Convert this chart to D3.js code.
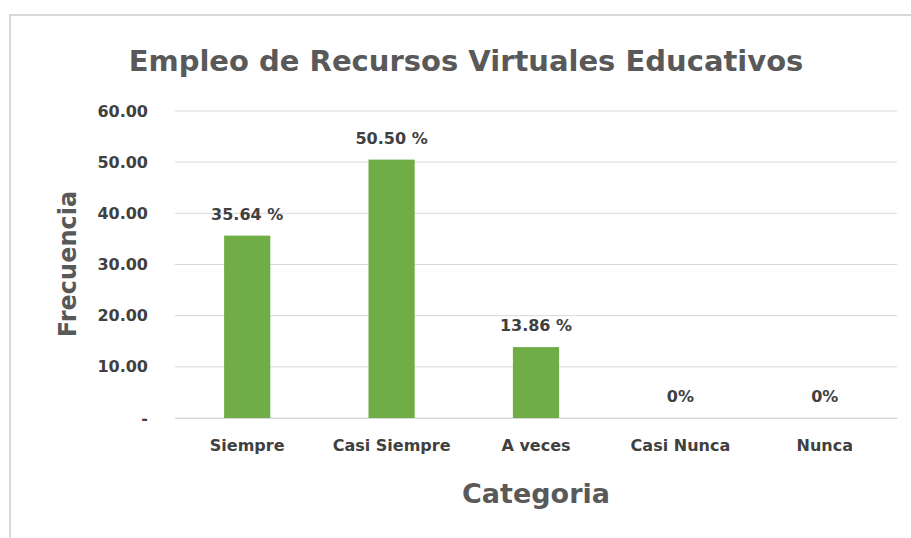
<!DOCTYPE html>
<html><head><meta charset="utf-8">
<script src="https://cdn.jsdelivr.net/npm/d3@7"></script>
<style>body{margin:0;background:#fff}svg{display:block}</style>
</head><body>
<svg id="c" width="911" height="538"></svg>
<script>
const categories = ["Siempre", "Casi Siempre", "A veces", "Casi Nunca", "Nunca"];
const values = [35.64, 50.50, 13.86, 0, 0];
const valueLabels = ["35.64 %", "50.50 %", "13.86 %", "0%", "0%"];
const yTicks = [0, 10, 20, 30, 40, 50, 60];
const title = "Empleo de Recursos Virtuales Educativos";
const xTitle = "Categoria";
const yTitle = "Frecuencia";

const svg = d3.select("#c");
const m = {left:175, right:897, top:111, bottom:418};
svg.append("rect").attr("x",10).attr("y",15).attr("width",920).attr("height",540)
  .attr("fill","#fff").attr("stroke","#d9d9d9").attr("stroke-width",2);

const x = d3.scaleBand().domain(categories).range([m.left, m.right]).paddingInner(0.68).paddingOuter(0.34);
const y = d3.scaleLinear().domain([0,60]).range([m.bottom, m.top]);

const font = "'DejaVu Sans', sans-serif";
// gridlines
svg.append("g").selectAll("line").data(yTicks).join("line")
  .attr("x1",m.left).attr("x2",m.right).attr("y1",d=>y(d)).attr("y2",d=>y(d))
  .attr("stroke","#d9d9d9").attr("stroke-width",1);

// y axis
const ya = svg.append("g").attr("transform",`translate(${m.left},0)`)
  .call(d3.axisLeft(y).tickValues(yTicks).tickSize(0).tickPadding(27)
    .tickFormat(d=> d===0 ? "-" : d3.format(".2f")(d)));
ya.select(".domain").remove();
ya.selectAll("text").attr("font-family",font).attr("font-size",16).attr("font-weight","bold").attr("fill","#404040");

// x axis
const xa = svg.append("g").attr("transform",`translate(0,${m.bottom})`)
  .call(d3.axisBottom(x).tickSize(0).tickPadding(22));
xa.select(".domain").attr("stroke","#d9d9d9");
xa.selectAll("text").attr("font-family",font).attr("font-size",16).attr("font-weight","bold").attr("fill","#404040");

// bars
svg.append("g").selectAll("rect").data(values).join("rect")
  .attr("x",(d,i)=>x(categories[i])).attr("width",x.bandwidth())
  .attr("y",d=>y(d)).attr("height",d=>y(0)-y(d)).attr("fill","#70ad47");

// value labels
svg.append("g").selectAll("text").data(values).join("text")
  .attr("x",(d,i)=>x(categories[i])+x.bandwidth()/2).attr("y",d=>y(d)-16)
  .attr("text-anchor","middle").attr("font-family",font).attr("font-size",16)
  .attr("font-weight","bold").attr("fill","#404040").text((d,i)=>valueLabels[i]);

// titles
svg.append("text").attr("x",466).attr("y",71).attr("text-anchor","middle")
  .attr("font-family",font).attr("font-size",29).attr("font-weight","bold").attr("fill","#595959").text(title);
svg.append("text").attr("x",(m.left+m.right)/2).attr("y",503).attr("text-anchor","middle")
  .attr("font-family",font).attr("font-size",27).attr("font-weight","bold").attr("fill","#595959").text(xTitle);
svg.append("text").attr("transform","translate(76,264) rotate(-90)").attr("text-anchor","middle")
  .attr("font-family",font).attr("font-size",24).attr("font-weight","bold").attr("fill","#595959").text(yTitle);
</script>
</body></html>
